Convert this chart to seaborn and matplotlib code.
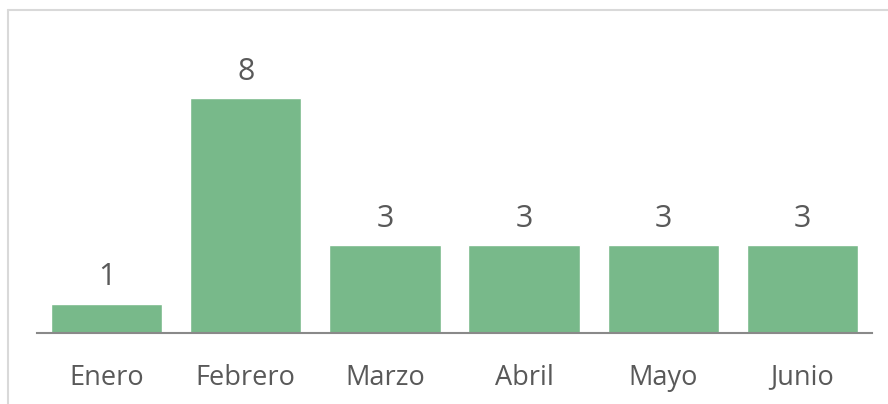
import matplotlib
matplotlib.use('Agg')
import matplotlib.pyplot as plt
import pandas as pd
import seaborn as sns
from matplotlib.lines import Line2D

meses = ['Enero', 'Febrero', 'Marzo', 'Abril', 'Mayo', 'Junio']
valores = [1, 8, 3, 3, 3, 3]

bar_color = '#78B98A'
text_color = '#595959'

sns.set_theme(style='white')
plt.rcParams['font.family'] = ['Open Sans', 'DejaVu Sans']

data = pd.DataFrame({'mes': meses, 'valor': valores})

fig = plt.figure(figsize=(8.88, 4.04), dpi=100)
W, H = 888, 404
# plot area: x 37..872 px, baseline at y=333 px
ax = fig.add_axes([37 / W, (H - 333) / H, (872 - 37) / W, (333 - 39) / H])

sns.barplot(data=data, x='mes', y='valor', color=bar_color, width=0.8,
            saturation=1, ax=ax)

ax.set_xlim(-0.5, len(meses) - 0.5)
ax.set_ylim(0, 10)
ax.set_xlabel('')
ax.set_ylabel('')
ax.set_yticks([])
for s in ['top', 'right', 'left']:
    ax.spines[s].set_visible(False)
ax.spines['bottom'].set_color('#898989')
ax.spines['bottom'].set_linewidth(1.5)
ax.tick_params(axis='x', length=0, pad=22, labelsize=19.5, labelcolor=text_color)

for c in ax.containers:
    ax.bar_label(c, fmt='%d', padding=8, fontsize=22, color=text_color)

# light outer frame (only top and left visible in the crop)
fig.add_artist(Line2D([8 / W, 8 / W], [0, 1 - 10 / H], color='#D9D9D9', lw=1.5))
fig.add_artist(Line2D([8 / W, 1], [1 - 10 / H, 1 - 10 / H], color='#D9D9D9', lw=1.5))

fig.savefig('out.png', dpi=100)
